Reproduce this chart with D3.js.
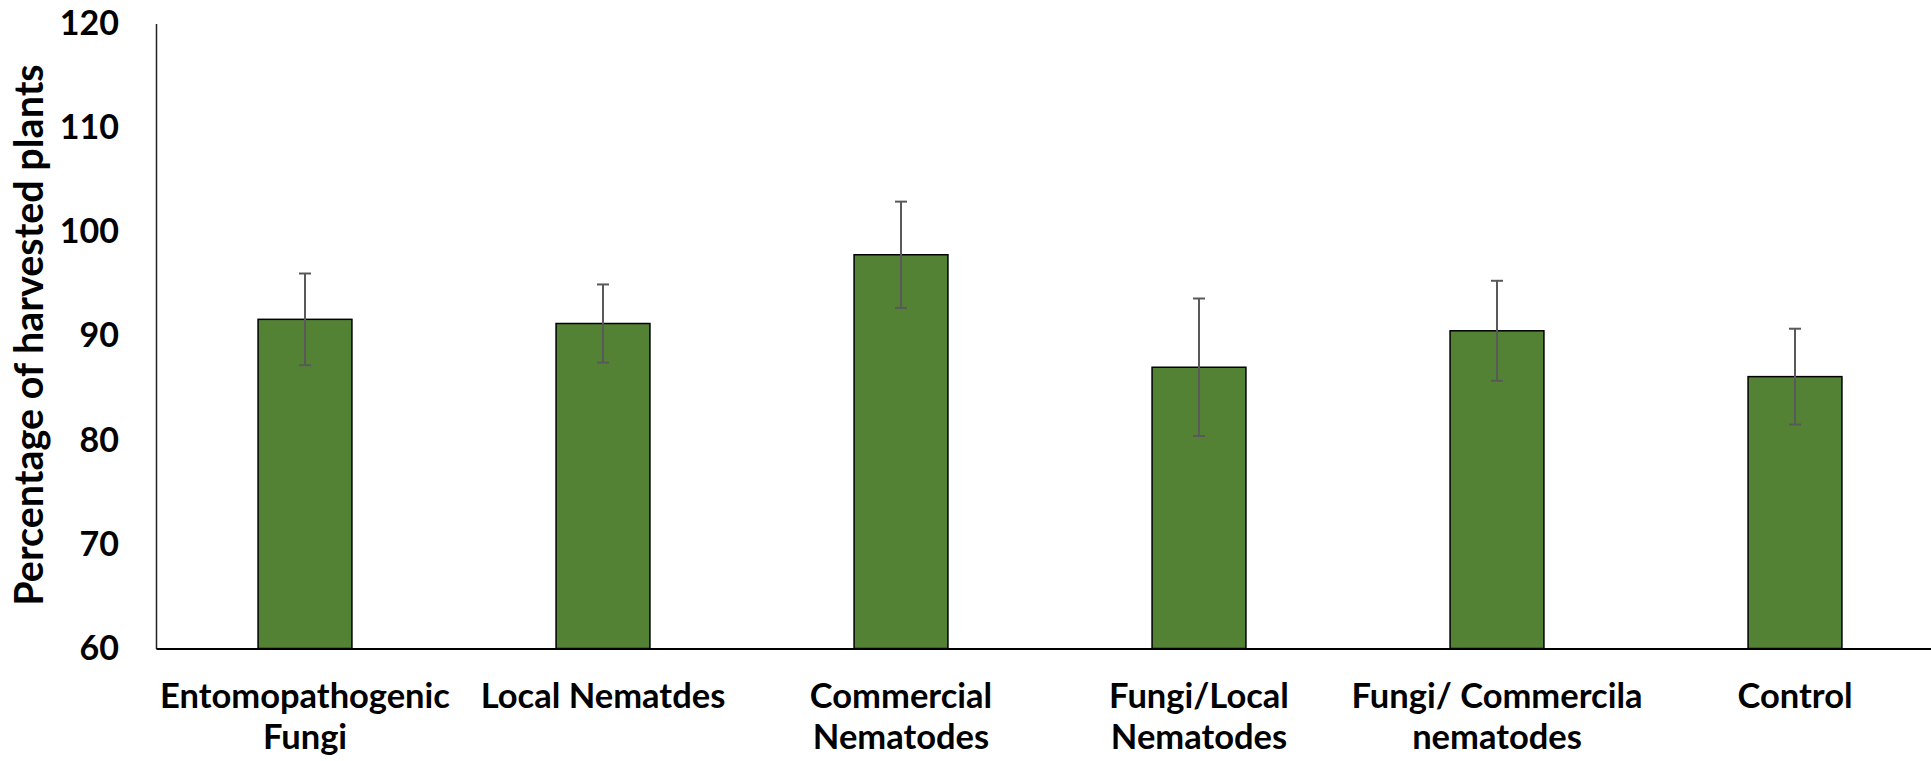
<!DOCTYPE html>
<html>
<head>
<meta charset="utf-8">
<script src="https://cdn.jsdelivr.net/npm/d3@7/dist/d3.min.js"></script>
<style>
  html, body { margin: 0; padding: 0; background: #fff; }
  svg { display: block; }
  text { font-family: Lato, "Open Sans", sans-serif; font-weight: bold; fill: #000; }
</style>
</head>
<body>
<svg id="chart" width="1931" height="761"></svg>
<script>
// ---- data ----
const categories = ["Entomopathogenic Fungi", "Local Nematdes", "Commercial Nematodes", "Fungi/Local Nematodes", "Fungi/ Commercila nematodes", "Control"];
const categoryLines = [["Entomopathogenic", "Fungi"], ["Local Nematdes"], ["Commercial", "Nematodes"], ["Fungi/Local", "Nematodes"], ["Fungi/ Commercila", "nematodes"], ["Control"]];
const values = [91.6, 91.2, 97.8, 87.0, 90.5, 86.1];
const errors = [4.4, 3.75, 5.1, 6.6, 4.8, 4.6];
const yTicks = [60, 70, 80, 90, 100, 110, 120];
const yTitle = "Percentage of harvested plants";

// ---- layout ----
const svg = d3.select("#chart");
const mLeft = 156, mRight = 1944, mTop = 23.5, mBottom = 648.5;

const x = d3.scaleBand().domain(categories).range([mLeft, mRight])
  .paddingInner(0.685).paddingOuter(0.3425);
const y = d3.scaleLinear().domain([60, 120]).range([mBottom, mTop]);

// bars
svg.append("g").selectAll("rect").data(categories).join("rect")
  .attr("x", d => x(d))
  .attr("y", (d, i) => y(values[i]))
  .attr("width", x.bandwidth())
  .attr("height", (d, i) => y(60) - y(values[i]))
  .attr("fill", "#548235")
  .attr("stroke", "#000")
  .attr("stroke-width", 1.5);

// error bars
const eg = svg.append("g").attr("stroke", "#595959").attr("stroke-width", 2).attr("fill", "none");
categories.forEach((c, i) => {
  const cx = x(c) + x.bandwidth() / 2;
  const y1 = y(values[i] + errors[i]);
  const y2 = y(values[i] - errors[i]);
  eg.append("line").attr("x1", cx).attr("x2", cx).attr("y1", y1).attr("y2", y2);
  eg.append("line").attr("x1", cx - 6).attr("x2", cx + 6).attr("y1", y1).attr("y2", y1);
  eg.append("line").attr("x1", cx - 6).attr("x2", cx + 6).attr("y1", y2).attr("y2", y2);
});

// y axis
const yAxis = svg.append("g").attr("transform", `translate(${mLeft},0)`)
  .call(d3.axisLeft(y).tickValues(yTicks).tickSize(0).tickSizeOuter(0).tickPadding(37));
yAxis.select(".domain").attr("stroke", "#222").attr("stroke-width", 1.5);
yAxis.selectAll("text").style("font-size", "34px").style("font-family", "Lato, sans-serif").style("font-weight", "bold").attr("fill", "#000");

// x axis
const xAxis = svg.append("g").attr("transform", `translate(0,${mBottom})`)
  .call(d3.axisBottom(x).tickSize(0).tickSizeOuter(0).tickFormat(""));
xAxis.select(".domain").attr("stroke", "#000").attr("stroke-width", 2);
xAxis.selectAll(".tick").each(function(d, i) {
  const t = d3.select(this).append("text")
    .attr("text-anchor", "middle")
    .style("font-size", "34.5px")
    .attr("fill", "#000");
  categoryLines[i].forEach((ln, k) => {
    t.append("tspan").attr("x", 0).attr("y", 59 + k * 41.5).text(ln);
  });
});

// y title
svg.append("text")
  .attr("transform", `translate(43,335) rotate(-90)`)
  .attr("text-anchor", "middle")
  .style("font-size", "39.5px")
  .text(yTitle);
</script>
</body>
</html>
